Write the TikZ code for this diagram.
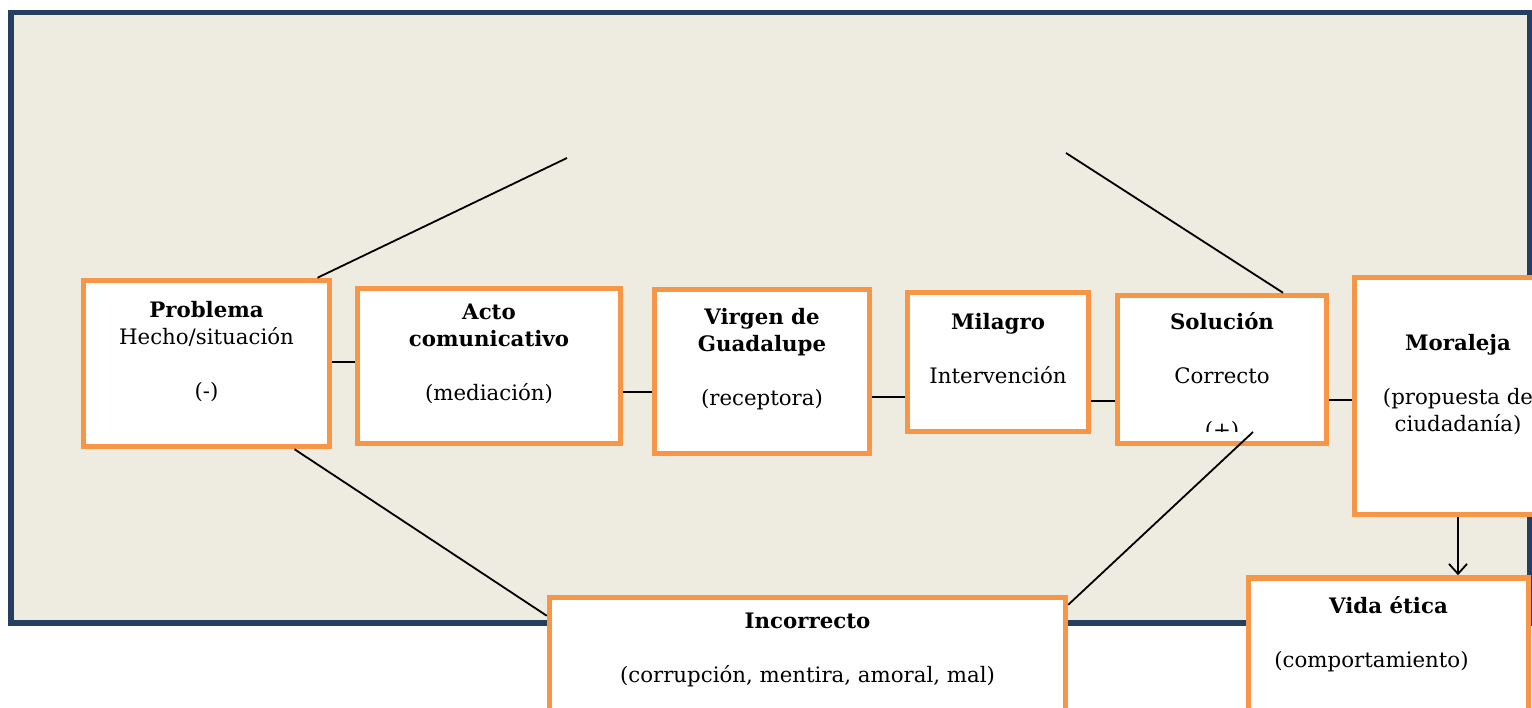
\documentclass[tikz,border=0pt]{standalone}
\usepackage{fontspec}
\setmainfont{DejaVu Serif}
\usetikzlibrary{arrows.meta}
\definecolor{eorange}{HTML}{F79646}
\definecolor{eframe}{HTML}{243F60}
\definecolor{ebeige}{HTML}{EEECE1}
\tikzset{
    ebox/.style={draw=eorange, line width=5.5pt, fill=white, inner sep=0pt},
    etext/.style={align=center, inner sep=0pt, anchor=north, font=\fontsize{21.3}{27}\selectfont},
    eline/.style={line width=1.8pt}
}

\begin{document}
\begin{tikzpicture}[x=1pt,y=-1pt]
    \clip (0,0) rectangle (1532,708);
    \draw [draw=eframe, line width=5.5pt, fill=ebeige] (11,12.5) rectangle (1530,623);
    \coordinate (t1) at (567,158);
    \coordinate (t2) at (1066,153);
    \node[ebox, minimum width=246pt, minimum height=166pt] (prob) at (206.5,363.5) {};
    \node[ebox, minimum width=263pt, minimum height=155pt] (acto) at (489,366) {};
    \node[ebox, minimum width=215pt, minimum height=164pt] (virg) at (762,371.5) {};
    \node[ebox, minimum width=181pt, minimum height=139pt] (mil) at (998,362) {};
    \node[ebox, minimum width=209pt, minimum height=148pt] (sol) at (1222,369.5) {};
    \node[ebox, minimum width=207pt, minimum height=237pt] (mor) at (1458,396) {};
    \node[ebox, minimum width=516pt, minimum height=150pt] (inco) at (807.5,672.5) {};
    \node[ebox, minimum width=280pt, minimum height=150pt] (vida) at (1388.5,653) {};
    \draw [eline] ([xshift=111pt]prob.north) -- (t1);
    \draw [eline] (t2) -- ([xshift=61pt]sol.north);
    \draw [eline] ([xshift=88pt]prob.south) -- ([yshift=-21pt]inco.north west);
    \node[etext] (probt) at (206.5,301) {\textbf{Problema}\\Hecho/situación\\[27pt](-)};
    \node[etext] (actot) at (489,304) {\textbf{Acto}\\\textbf{comunicativo}\\[27pt](mediación)};
    \node[etext] (virgt) at (762,308) {\textbf{Virgen de}\\\textbf{Guadalupe}\\[27pt](receptora)};
    \node[etext] (milt) at (998,313) {\textbf{Milagro}\\[27pt]Intervención};
    \begin{scope}
        \clip (1110,285) rectangle (1335,432);
        \node[etext] (solt) at (1222,312) {\textbf{Solución}\\[27pt]Correcto\\[27pt](+)};
    \end{scope}
    \node[etext] (mort) at (1458,334) {\textbf{Moraleja}\\[27pt](propuesta de\\ciudadanía)};
    \node[etext] (incot) at (807.5,613) {\textbf{Incorrecto}\\[27pt](corrupción, mentira, amoral, mal)};
    \node[etext] (vidat) at (1388.5,596) {\textbf{Vida ética}\\[27pt](comportamiento)\hspace*{34pt}};
    \draw [eline] ([yshift=1.8pt]prob.east) -- ([yshift=1.8pt]prob.east -| acto.west);
    \draw [eline] ([yshift=-26.3pt]acto.east) -- ([yshift=-26.3pt]acto.east -| virg.west);
    \draw [eline] ([yshift=-25.2pt]virg.east) -- ([yshift=-25.2pt]virg.east -| mil.west);
    \draw [eline] ([yshift=-38.7pt]mil.east) -- ([yshift=-38.7pt]mil.east -| sol.west);
    \draw [eline] ([yshift=-30.5pt]sol.east) -- ([yshift=-30.5pt]sol.east -| mor.west);
    \draw [eline] ([xshift=31pt,yshift=-62.5pt]sol.center) -- ([yshift=-10pt]inco.north east);
    \draw [eline, -{Straight Barb[length=10pt,width=18pt]}] (mor.south) -- (mor.south |- vida.north);
\end{tikzpicture}
\end{document}
